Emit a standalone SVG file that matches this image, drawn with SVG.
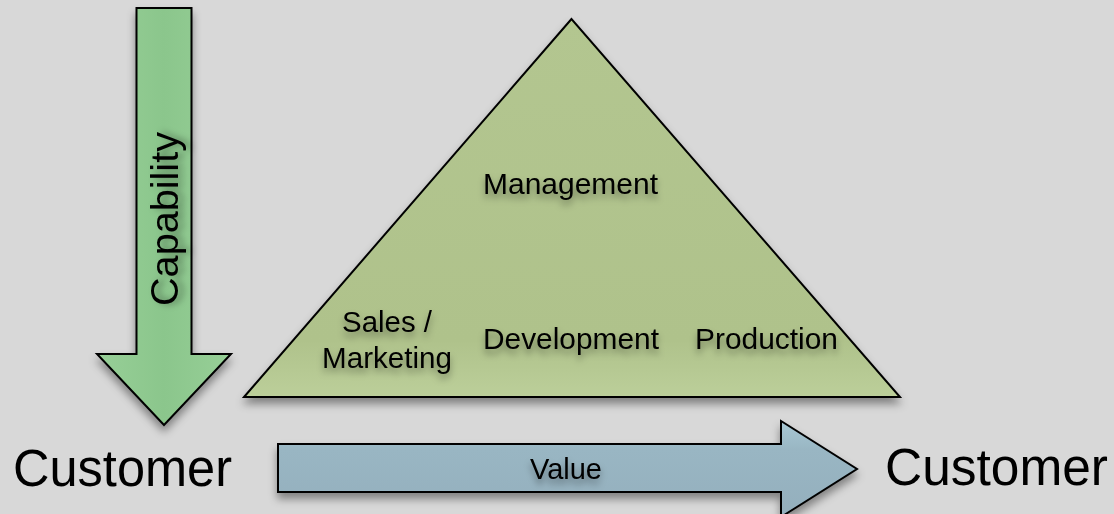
<svg xmlns="http://www.w3.org/2000/svg" width="1114" height="514" viewBox="0 0 1114 514">
  <defs>
    <filter id="shapeShadow" x="-20%" y="-20%" width="140%" height="150%">
      <feDropShadow dx="0" dy="6" stdDeviation="4" flood-color="#000" flood-opacity="0.4"/>
    </filter>
    <filter id="textShadow" x="-20%" y="-50%" width="140%" height="220%">
      <feDropShadow dx="0" dy="5" stdDeviation="3.5" flood-color="#000" flood-opacity="0.4"/>
    </filter>
    <linearGradient id="greenFill" x1="0" y1="0" x2="1" y2="0">
      <stop offset="0" stop-color="#97cf97"/>
      <stop offset="0.5" stop-color="#8bc68c"/>
      <stop offset="1" stop-color="#97cf97"/>
    </linearGradient>
    <linearGradient id="oliveFill" x1="0" y1="0" x2="0" y2="1">
      <stop offset="0" stop-color="#b3c690"/>
      <stop offset="0.85" stop-color="#afc28b"/>
      <stop offset="1" stop-color="#bccf9a"/>
    </linearGradient>
    <linearGradient id="blueFill" x1="0" y1="0" x2="0" y2="1">
      <stop offset="0" stop-color="#a8c8d4"/>
      <stop offset="0.3" stop-color="#99b6c3"/>
      <stop offset="1" stop-color="#94afbd"/>
    </linearGradient>
  </defs>
  <style>
    .shape { stroke: #000; stroke-width: 2; stroke-linejoin: miter; filter: url(#shapeShadow); }
    .label { font-family: "Liberation Sans", Arial, sans-serif; fill: #000; }
    .inner { font-size: 29px; filter: url(#textShadow); }
    .big { font-size: 51px; }
  </style>

  <!-- page background -->
  <rect x="0" y="0" width="1114" height="514" fill="#d8d8d8"/>

  <!-- pyramid of functions -->
  <g id="node-pyramid">
    <polygon class="shape" points="571.5,19 244,397 900,397" fill="url(#oliveFill)"/>
    <text class="label inner" x="483" y="194" textLength="175" lengthAdjust="spacingAndGlyphs">Management</text>
    <text class="label inner" x="342" y="332" textLength="90" lengthAdjust="spacingAndGlyphs">Sales /</text>
    <text class="label inner" x="322" y="368" textLength="130" lengthAdjust="spacingAndGlyphs">Marketing</text>
    <text class="label inner" x="483" y="349" textLength="176" lengthAdjust="spacingAndGlyphs">Development</text>
    <text class="label inner" x="695" y="349" textLength="143" lengthAdjust="spacingAndGlyphs">Production</text>
  </g>

  <!-- customers -->
  <g id="node-customer-left">
    <text class="label big" x="13" y="486" textLength="219" lengthAdjust="spacingAndGlyphs">Customer</text>
  </g>
  <g id="node-customer-right">
    <text class="label big" x="885" y="485" textLength="223" lengthAdjust="spacingAndGlyphs">Customer</text>
  </g>

  <!-- block arrows -->
  <g id="connectors">
    <g id="edge-capability">
      <polygon class="shape" points="136.5,8 191.5,8 191.5,354 231,354 164,425 97,354 136.5,354" fill="url(#greenFill)"/>
      <text class="label inner" transform="translate(178,219) rotate(-90)" text-anchor="middle" style="font-size:38px" textLength="174" lengthAdjust="spacingAndGlyphs">Capability</text>
    </g>
    <g id="edge-value">
      <polygon class="shape" points="278,444 781,444 781,421 857,469 781,517 781,492 278,492" fill="url(#blueFill)"/>
      <text class="label inner" x="530" y="479" style="font-size:29px" textLength="72" lengthAdjust="spacingAndGlyphs">Value</text>
    </g>
  </g>
</svg>
